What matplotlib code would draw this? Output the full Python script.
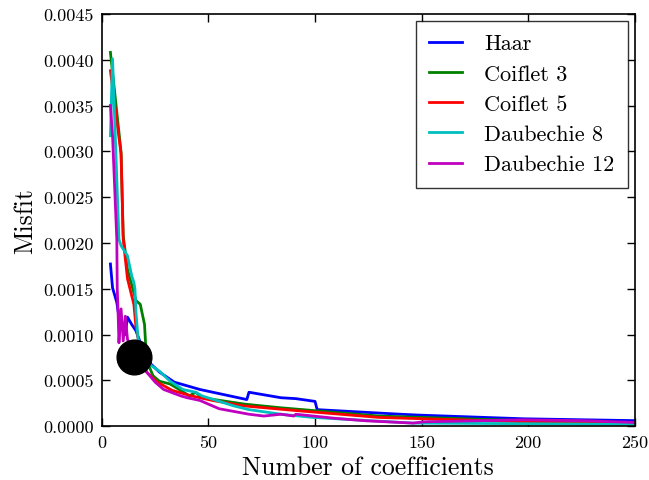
import matplotlib
matplotlib.use("Agg")
import matplotlib.pyplot as plt
from matplotlib.ticker import FormatStrFormatter

plt.rcParams["font.family"] = "serif"
plt.rcParams["font.serif"] = ["cmr10", "DejaVu Serif"]
plt.rcParams["mathtext.fontset"] = "cm"
plt.rcParams["axes.unicode_minus"] = False

# ---- data ----
haar_x = [4, 5, 7, 8, 10, 11, 12, 14, 16, 19, 22, 27, 34, 46, 58, 68, 69, 84, 91, 100, 101, 140, 149, 198, 250]
haar_y = [0.00177, 0.00151, 0.00135, 0.00119, 0.00104, 0.00100, 0.00119, 0.00111, 0.00104, 0.00085,
          0.00070, 0.00059, 0.00048, 0.00040, 0.00034, 0.00029, 0.00037, 0.00031, 0.00030, 0.00027,
          0.00018, 0.00013, 0.00012, 0.00008, 0.00006]

coif3_x = [4, 9, 10, 12, 16, 18, 20, 20.5, 22, 24, 27, 32, 37, 41, 44, 47, 67, 84, 130, 198, 250]
coif3_y = [0.00408, 0.00299, 0.00208, 0.00171, 0.00137, 0.00133, 0.00111, 0.00090, 0.00066, 0.00055,
           0.00049, 0.00046, 0.00039, 0.00033, 0.00037, 0.00031, 0.00024, 0.00020, 0.00011, 0.00006, 0.00003]

coif5_x = [4, 9, 10, 12, 15, 16, 18, 21, 26, 33, 42, 52, 67, 91, 130, 198, 250]
coif5_y = [0.00388, 0.00297, 0.00204, 0.00161, 0.00133, 0.00108, 0.00084, 0.00059, 0.00048, 0.00039,
           0.00033, 0.00028, 0.00022, 0.00017, 0.000095, 0.000047, 0.000033]

db8_x = [4, 5, 8, 9, 12, 14, 15, 15.5, 16, 17, 22, 27, 32, 38, 44, 47, 62, 69, 84, 99, 146, 250]
db8_y = [0.00317, 0.00401, 0.00204, 0.00197, 0.00186, 0.00164, 0.00157, 0.00150, 0.00124, 0.00095,
         0.00068, 0.00060, 0.00049, 0.00040, 0.00037, 0.00033, 0.00022, 0.00018, 0.00013, 0.000095,
         0.000033, 0.00002]

db12_x = [4, 5, 7, 7.2, 7.6, 8, 9, 10, 11, 12, 15, 21, 25, 29, 37, 40, 46, 55, 69, 76, 84, 90, 91,
          110, 124, 146, 151, 198, 228, 250]
db12_y = [0.00350, 0.00317, 0.00204, 0.00150, 0.00124, 0.00091, 0.00128, 0.00093, 0.00120, 0.00095,
          0.00073, 0.00059, 0.00048, 0.00040, 0.00033, 0.00031, 0.00028, 0.00019, 0.00013, 0.00011,
          0.00013, 0.00011, 0.00013, 0.000084, 0.000058, 0.000033, 0.000047, 0.000069, 0.000058, 0.00004]

best_x = [15]
best_y = [0.00075]

fig = plt.figure(figsize=(6.49, 4.81), dpi=100)
ax = fig.add_axes([0.157, 0.112, 0.821, 0.857])

lw = 2.0
ax.plot(haar_x, haar_y, color=(0, 0, 1), lw=lw, label="Haar")
ax.plot(coif3_x, coif3_y, color=(0, 0.5, 0), lw=lw, label="Coiflet 3")
ax.plot(coif5_x, coif5_y, color=(1, 0, 0), lw=lw, label="Coiflet 5")
ax.plot(db8_x, db8_y, color=(0, 0.75, 0.75), lw=lw, label="Daubechie 8")
ax.plot(db12_x, db12_y, color=(0.75, 0, 0.75), lw=lw, label="Daubechie 12")
ax.plot(best_x, best_y, "ko", ms=25, zorder=5)

ax.set_xlim(0, 250)
ax.set_ylim(0, 0.0045)
ax.set_xticks([0, 50, 100, 150, 200, 250])
ax.set_yticks([i * 0.0005 for i in range(10)])
ax.yaxis.set_major_formatter(FormatStrFormatter("%.4f"))
ax.tick_params(direction="in", top=True, right=True, length=6, width=1, labelsize=13, pad=6)
for s in ax.spines.values():
    s.set_linewidth(1.2)

ax.set_xlabel("Number of coefficients", fontsize=18.5)
ax.set_ylabel("Misfit", fontsize=18.5)

leg = ax.legend(loc="upper right", fontsize=16, frameon=True, fancybox=False,
                handlelength=1.5, handletextpad=1.0, borderpad=0.6, labelspacing=0.48,
                borderaxespad=0.3, bbox_to_anchor=(1.0, 1.0))
leg.get_frame().set_edgecolor("black")
leg.get_frame().set_linewidth(1.0)

plt.savefig("out.png", dpi=100)
plt.close()
